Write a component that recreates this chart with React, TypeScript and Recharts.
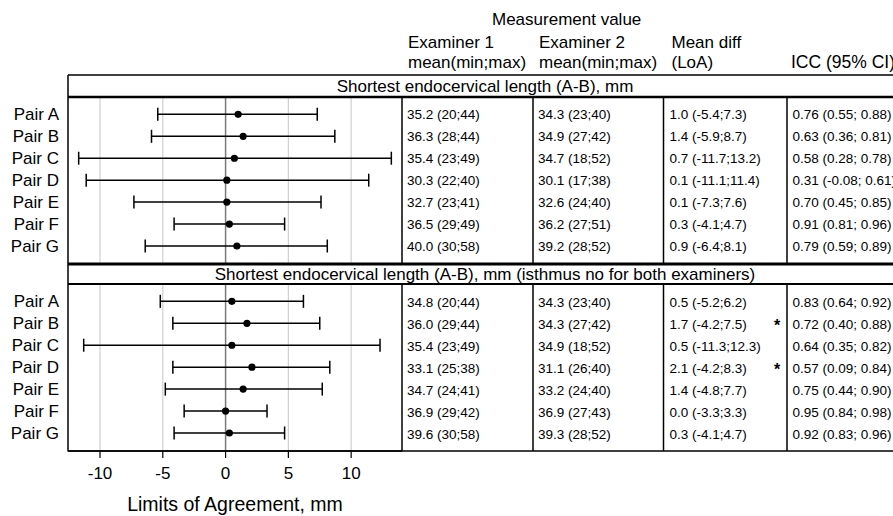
import { ScatterChart, Scatter, XAxis, YAxis, ErrorBar, ReferenceLine } from 'recharts';

const FONT = '"Liberation Sans", Arial, Helvetica, sans-serif';

const PAIRS = ['Pair A', 'Pair B', 'Pair C', 'Pair D', 'Pair E', 'Pair F', 'Pair G'];
const X_TICKS = [-10, -5, 0, 5, 10];
const GRID_VALUES = [-10, -5, 5, 10];

// panel 1: all cases
const P1_EXAM1 = ['35.2 (20;44)', '36.3 (28;44)', '35.4 (23;49)', '30.3 (22;40)', '32.7 (23;41)', '36.5 (29;49)', '40.0 (30;58)'];
const P1_EXAM2 = ['34.3 (23;40)', '34.9 (27;42)', '34.7 (18;52)', '30.1 (17;38)', '32.6 (24;40)', '36.2 (27;51)', '39.2 (28;52)'];
const P1_DIFF = [1.0, 1.4, 0.7, 0.1, 0.1, 0.3, 0.9];
const P1_LOA_LOW = [-5.4, -5.9, -11.7, -11.1, -7.3, -4.1, -6.4];
const P1_LOA_HIGH = [7.3, 8.7, 13.2, 11.4, 7.6, 4.7, 8.1];
const P1_ICC = ['0.76 (0.55; 0.88)', '0.63 (0.36; 0.81)', '0.58 (0.28; 0.78)', '0.31 (-0.08; 0.61)', '0.70 (0.45; 0.85)', '0.91 (0.81; 0.96)', '0.79 (0.59; 0.89)'];
const P1_STAR = [false, false, false, false, false, false, false];

// panel 2: isthmus no for both examiners
const P2_EXAM1 = ['34.8 (20;44)', '36.0 (29;44)', '35.4 (23;49)', '33.1 (25;38)', '34.7 (24;41)', '36.9 (29;42)', '39.6 (30;58)'];
const P2_EXAM2 = ['34.3 (23;40)', '34.3 (27;42)', '34.9 (18;52)', '31.1 (26;40)', '33.2 (24;40)', '36.9 (27;43)', '39.3 (28;52)'];
const P2_DIFF = [0.5, 1.7, 0.5, 2.1, 1.4, 0.0, 0.3];
const P2_LOA_LOW = [-5.2, -4.2, -11.3, -4.2, -4.8, -3.3, -4.1];
const P2_LOA_HIGH = [6.2, 7.5, 12.3, 8.3, 7.7, 3.3, 4.7];
const P2_ICC = ['0.83 (0.64; 0.92)', '0.72 (0.40; 0.88)', '0.64 (0.35; 0.82)', '0.57 (0.09; 0.84)', '0.75 (0.44; 0.90)', '0.95 (0.84; 0.98)', '0.92 (0.83; 0.96)'];
const P2_STAR = [false, true, false, true, false, false, false];

const STRIP_1 = 'Shortest endocervical length (A-B), mm';
const STRIP_2 = 'Shortest endocervical length (A-B), mm (isthmus no for both examiners)';

function buildRows(diff: number[], low: number[], high: number[]) {
  return PAIRS.map((pair, i) => ({
    pair,
    row: i,
    diff: diff[i],
    err: [diff[i] - low[i], high[i] - diff[i]],
  }));
}

const loaText = (d: number, lo: number, hi: number) => `${d.toFixed(1)} (${lo.toFixed(1)};${hi.toFixed(1)})`;

const Dot = (props: any) => <circle cx={props.cx} cy={props.cy} r={3.6} fill="#000" />;

function Panel({ data, top, showAxis }: { data: any[]; top: number; showAxis: boolean }) {
  const height = showAxis ? 7 + 167 + 66 : 7 + 167 + 7;
  return (
    <div style={{ position: 'absolute', left: 0, top }}>
      <ScatterChart
        width={410}
        height={height}
        margin={{ top: 7, right: 8, bottom: showAxis ? 0 : 7, left: 0 }}
      >
        <XAxis
          type="number"
          dataKey="diff"
          domain={[-12.55, 14.05]}
          ticks={X_TICKS}
          allowDataOverflow
          hide={!showAxis}
          height={66}
          axisLine={{ stroke: '#000', strokeWidth: 1.5 }}
          tickLine={{ stroke: '#000', strokeWidth: 1.2 }}
          tickSize={7}
          tickMargin={9}
          tick={{ fill: '#000', fontSize: 17, fontFamily: FONT }}
          label={{ value: 'Limits of Agreement, mm', position: 'insideBottom', offset: 6, fill: '#000', fontSize: 19.5, fontFamily: FONT }}
        />
        <YAxis
          type="number"
          dataKey="row"
          domain={[-0.79, 6.82]}
          reversed
          ticks={[0, 1, 2, 3, 4, 5, 6]}
          interval={0}
          tickFormatter={(v: number) => PAIRS[v]}
          width={68}
          axisLine={false}
          tickLine={false}
          tickSize={0}
          tickMargin={9}
          tick={{ fill: '#000', fontSize: 17, fontFamily: FONT }}
        />
        {GRID_VALUES.map((v) => (
          <ReferenceLine key={v} x={v} stroke="#cfcfcf" strokeWidth={1.2} />
        ))}
        <ReferenceLine x={0} stroke="#7a7a7a" strokeWidth={1.5} />
        <Scatter data={data} fill="#000" shape={Dot} isAnimationActive={false}>
          <ErrorBar dataKey="err" direction="x" width={6.5} stroke="#000" strokeWidth={1.5} isAnimationActive={false} />
        </Scatter>
      </ScatterChart>
    </div>
  );
}

const COL_LINES = [402, 533, 663.5, 787];
const COL_TEXT = [407, 538, 669.5, 792.5];
const ROW_H = 21.95;
const P1_FIRST = 114.3;
const P2_FIRST = 302.7;

function TableRows({ first, exam1, exam2, diff, low, high, icc, star }: any) {
  return (
    <g>
      {PAIRS.map((_, i) => {
        const y = first + i * ROW_H;
        return (
          <g key={i} fontSize={13.5}>
            <text x={COL_TEXT[0]} y={y} dominantBaseline="central">{exam1[i]}</text>
            <text x={COL_TEXT[1]} y={y} dominantBaseline="central">{exam2[i]}</text>
            <text x={COL_TEXT[2]} y={y} dominantBaseline="central">{loaText(diff[i], low[i], high[i])}</text>
            <text x={COL_TEXT[3]} y={y} dominantBaseline="central">{icc[i]}</text>
            {star[i] && (
              <text x={777} y={y + 1} dominantBaseline="central" fontSize={16} fontWeight="bold" textAnchor="middle">*</text>
            )}
          </g>
        );
      })}
    </g>
  );
}

export default function App() {
  const data1 = buildRows(P1_DIFF, P1_LOA_LOW, P1_LOA_HIGH);
  const data2 = buildRows(P2_DIFF, P2_LOA_LOW, P2_LOA_HIGH);
  return (
    <div style={{ position: 'absolute', left: 0, top: 0, width: 893, height: 516, background: '#fff', overflow: 'hidden', fontFamily: FONT }}>
      <Panel data={data1} top={90} showAxis={false} />
      <Panel data={data2} top={277} showAxis />
      <svg width={893} height={516} style={{ position: 'absolute', left: 0, top: 0, pointerEvents: 'none' }} fontFamily={FONT} fill="#000">
        {/* column headers */}
        <text x={492} y={19} fontSize={17} dominantBaseline="central">Measurement value</text>
        <text x={408} y={42} fontSize={17} dominantBaseline="central">Examiner 1</text>
        <text x={408} y={62} fontSize={17} dominantBaseline="central">mean(min;max)</text>
        <text x={539} y={42} fontSize={17} dominantBaseline="central">Examiner 2</text>
        <text x={539} y={62} fontSize={17} dominantBaseline="central">mean(min;max)</text>
        <text x={671.5} y={42} fontSize={17} dominantBaseline="central">Mean diff</text>
        <text x={671.5} y={62} fontSize={17} dominantBaseline="central">(LoA)</text>
        <text x={791} y={62} fontSize={17.5} dominantBaseline="central">ICC (95% CI)</text>

        {/* strips */}
        <text x={485} y={86.5} fontSize={17} textAnchor="middle" dominantBaseline="central">{STRIP_1}</text>
        <text x={485} y={274.5} fontSize={17} textAnchor="middle" dominantBaseline="central">{STRIP_2}</text>

        {/* frame */}
        <g stroke="#000" fill="none">
          <line x1={68} y1={75} x2={902} y2={75} strokeWidth={1.5} />
          <line x1={68} y1={75} x2={68} y2={451.5} strokeWidth={1.5} />
          <line x1={68} y1={97} x2={902} y2={97} strokeWidth={2.6} />
          <line x1={68} y1={264} x2={902} y2={264} strokeWidth={3.2} />
          <line x1={68} y1={284} x2={902} y2={284} strokeWidth={2.2} />
          <line x1={68} y1={451} x2={902} y2={451} strokeWidth={1.5} />
          {COL_LINES.map((x) => (
            <g key={x}>
              <line x1={x} y1={97} x2={x} y2={264} strokeWidth={1.5} />
              <line x1={x} y1={284} x2={x} y2={451} strokeWidth={1.5} />
            </g>
          ))}
        </g>

        <TableRows first={P1_FIRST} exam1={P1_EXAM1} exam2={P1_EXAM2} diff={P1_DIFF} low={P1_LOA_LOW} high={P1_LOA_HIGH} icc={P1_ICC} star={P1_STAR} />
        <TableRows first={P2_FIRST} exam1={P2_EXAM1} exam2={P2_EXAM2} diff={P2_DIFF} low={P2_LOA_LOW} high={P2_LOA_HIGH} icc={P2_ICC} star={P2_STAR} />
      </svg>
    </div>
  );
}
